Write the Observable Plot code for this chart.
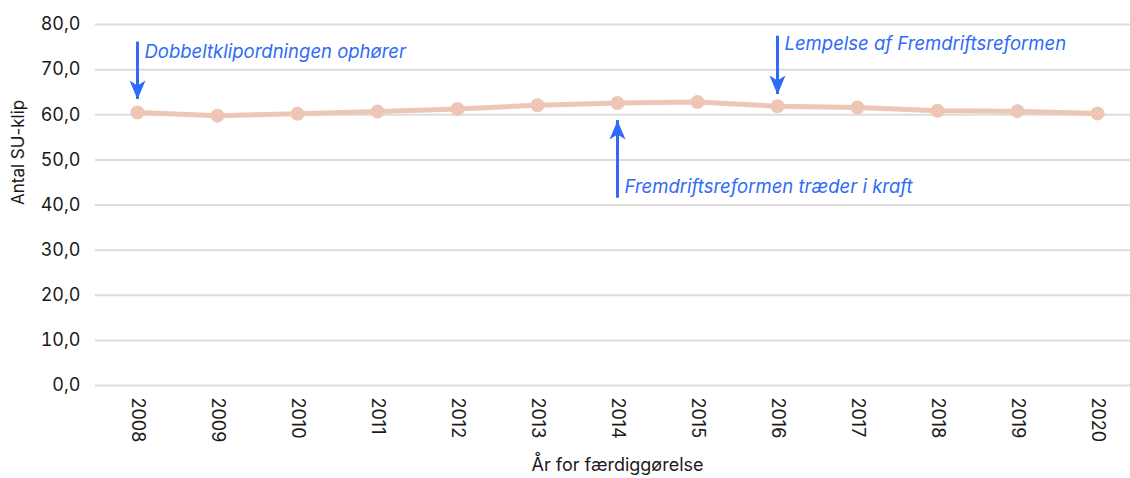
<!DOCTYPE html>
<html>
<head>
<meta charset="utf-8">
<script src="https://cdn.jsdelivr.net/npm/d3@7"></script>
<script src="https://cdn.jsdelivr.net/npm/@observablehq/plot@0.6"></script>
<style>
  html, body { margin: 0; padding: 0; background: #fff; }
  #chart svg { display: block; }
</style>
</head>
<body>
<div id="chart"></div>
<script>
const years = [2008, 2009, 2010, 2011, 2012, 2013, 2014, 2015, 2016, 2017, 2018, 2019, 2020];
const klip = [60.5, 59.8, 60.2, 60.7, 61.3, 62.1, 62.6, 62.8, 61.9, 61.6, 60.9, 60.8, 60.3];
const yTicks = [0, 10, 20, 30, 40, 50, 60, 70, 80];

const noteTexts = ["Dobbeltklipordningen ophører", "Fremdriftsreformen træder i kraft", "Lempelse af Fremdriftsreformen"];
const noteYears = [2008, 2014, 2016];
const noteFrom = [76.1, 41.5, 77.4];
const noteTo = [63.4, 58.7, 64.5];
const noteLabelY = [73.8, 44.0, 75.6];

const yLabel = "Antal SU-klip";
const xLabel = "År for færdiggørelse";

const data = years.map((y, i) => ({year: y, value: klip[i]}));
const notes = noteTexts.map((t, i) => ({text: t, year: noteYears[i], y1: noteFrom[i], y2: noteTo[i], ly: noteLabelY[i], rot: noteTo[i] < noteFrom[i] ? 180 : 0}));

const font = "Inter, 'Noto Sans', sans-serif";
const blue = "#2f6bf6";
const peach = "#edc6b6";

// arrowhead symbol, pointing up, tip at origin
const arrowHead = {
  draw(context) {
    context.moveTo(0, 0);
    context.lineTo(-8, 19);
    context.lineTo(0, 14);
    context.lineTo(8, 19);
    context.closePath();
  }
};

const chart = Plot.plot({
  width: 1130,
  height: 478,
  marginLeft: 95,
  marginRight: 0,
  marginTop: 24,
  marginBottom: 93,
  style: {fontFamily: font, fontSize: "18px", color: "#1a1a1a", background: "#fff"},
  x: {type: "point", domain: years, range: [135.5, 1097.7], padding: 0},
  y: {domain: [0, 80], ticks: yTicks},
  marks: [
    Plot.gridY(yTicks, {stroke: "#dcdcdc", strokeOpacity: 1, strokeWidth: 2}),
    Plot.axisY(yTicks, {tickSize: 0, tickPadding: 15, label: null, tickFormat: d => d.toFixed(1).replace(".", ","), fontSize: 18, fill: "#1a1a1a"}),
    Plot.axisX(years, {tickSize: 0, tickPadding: 12, tickRotate: 90, label: null, tickFormat: d => String(d), fontSize: 18, fill: "#1a1a1a"}),
    Plot.line(data, {x: "year", y: "value", stroke: peach, strokeWidth: 5}),
    Plot.dot(data, {x: "year", y: "value", r: 7, fill: peach, stroke: "none"}),
    Plot.ruleX(notes, {x: "year", y1: "y1", y2: "y2", stroke: blue, strokeWidth: 3}),
    Plot.dot(notes, {x: "year", y: "y2", symbol: arrowHead, rotate: "rot", fill: blue, stroke: "none"}),
    Plot.text(notes, {x: "year", y: "ly", text: "text", textAnchor: "start", dx: 7, fill: blue, fontStyle: "italic", fontSize: 18.5, fontFamily: font}),
    Plot.text([yLabel], {frameAnchor: "left", dx: -77, rotate: -90, fontSize: 17, fill: "#1a1a1a", fontFamily: font}),
    Plot.text([xLabel], {frameAnchor: "bottom", dx: 4.5, dy: 85, fontSize: 18, fill: "#1a1a1a", fontFamily: font})
  ]
});
document.getElementById("chart").appendChild(chart);
</script>
</body>
</html>
